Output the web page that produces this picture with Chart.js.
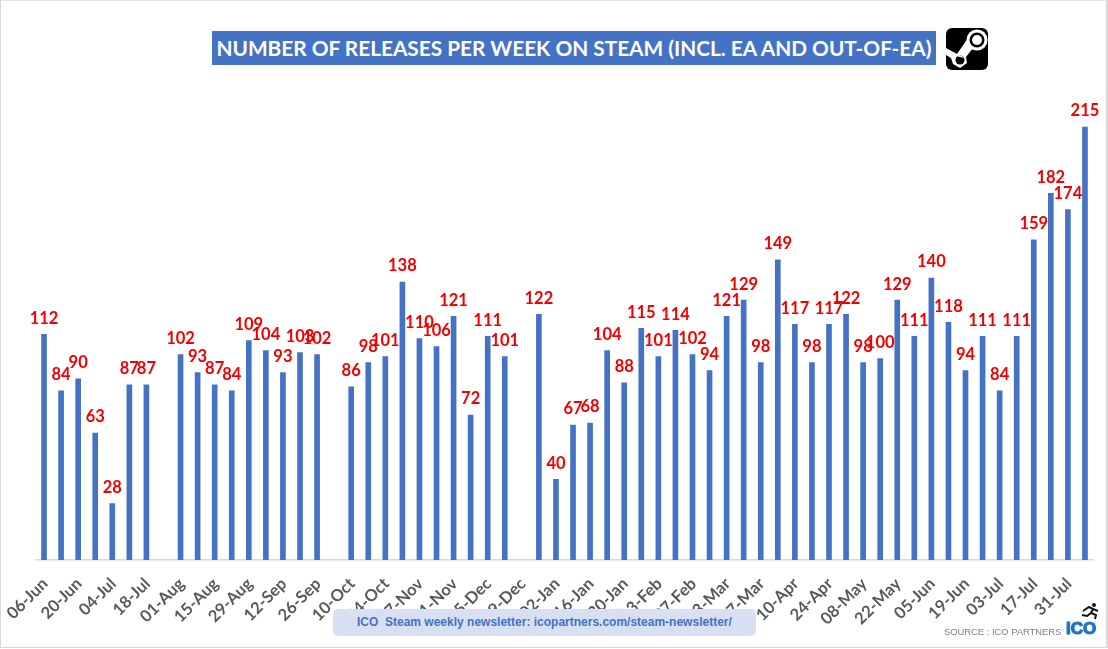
<!DOCTYPE html>
<html>
<head>
<meta charset="utf-8">
<script src="https://cdn.jsdelivr.net/npm/chart.js@4"></script>
<style>
  html, body { margin: 0; padding: 0; background: #fff; }
  #wrap { position: relative; width: 1108px; height: 649px; overflow: hidden; }
  #frame { position: absolute; left: 0; top: 0; width: 1105px; height: 646px; border: 1px solid #d9d9d9; border-top-color: #e6e6e6; border-right-width: 2px; }
  canvas { position: absolute; left: 0; top: 0; }
  #title { position: absolute; left: 212px; top: 31px; width: 724px; height: 34px; background: #4472c4; color: #fff;
           font: bold 20.8px/34px Lato, sans-serif; text-align: center; white-space: nowrap; }
  #steam { position: absolute; left: 946px; top: 28px; }
  #badge { position: absolute; left: 333px; top: 609px; width: 423px; height: 27px; border-radius: 5px; background: #d6e0f2; color: #4472c4;
           font: bold 12px/27px "Liberation Sans", sans-serif; padding-left: 24px; box-sizing: border-box; white-space: pre; }
  #source { position: absolute; left: 944px; top: 625px; color: #7f7f7f; font: 9.4px/13px "Liberation Sans", sans-serif; white-space: nowrap; }
  #ico { position: absolute; left: 1066px; top: 617px; color: #1f75c4; font: bold 17px/24px "Liberation Sans", sans-serif; -webkit-text-stroke: 1.2px #1f75c4; white-space: nowrap; }
  #runner { position: absolute; left: 1081px; top: 602px; }
</style>
</head>
<body>
<div id="wrap">
  <div id="frame"></div>
  <canvas id="releasesChart" width="1108" height="649"></canvas>
  <div id="title">NUMBER OF RELEASES PER WEEK ON STEAM (INCL. EA AND OUT-OF-EA)</div>
  <svg id="steam" width="43" height="43" viewBox="0 0 43 43">
    <rect width="42" height="42" rx="6" fill="#000"/>
    <path d="M0 20 L11 26 L22 10 L27 20 L20 29 L21 35 L14 40 L7 36 L5 30 L0 27 Z" fill="#fff"/>
    <circle cx="31" cy="12" r="10.5" fill="#fff"/>
    <circle cx="31" cy="12" r="7.5" fill="#000"/>
    <circle cx="31" cy="12" r="5" fill="#fff"/>
    <circle cx="14" cy="32" r="4.5" fill="#000"/>
    <path d="M10 28 A6 6 0 0 1 18 30 L14 29 Z" fill="#fff"/>
  </svg>
  <div id="badge">ICO  Steam weekly newsletter: icopartners.com/steam-newsletter/</div>
  <div id="source">SOURCE : ICO PARTNERS</div>
  <div id="ico">ICO</div>
  <svg id="runner" width="20" height="18" viewBox="0 0 20 18">
    <circle cx="13" cy="3" r="2" fill="#111"/>
    <path d="M2 9 L8 5 L12 7 L10 11 L15 13 L14 17 M10 11 L6 14 L1 13 M12 7 L17 9" fill="none" stroke="#111" stroke-width="2"/>
  </svg>
</div>
<script>
// weekly categories, every second one is shown on the axis
const weeks = [
  '06-Jun','13-Jun','20-Jun','27-Jun','04-Jul','11-Jul','18-Jul','25-Jul','01-Aug','08-Aug',
  '15-Aug','22-Aug','29-Aug','05-Sep','12-Sep','19-Sep','26-Sep','03-Oct','10-Oct','17-Oct',
  '24-Oct','31-Oct','07-Nov','14-Nov','21-Nov','28-Nov','05-Dec','12-Dec','19-Dec','26-Dec',
  '02-Jan','09-Jan','16-Jan','23-Jan','30-Jan','06-Feb','13-Feb','20-Feb','27-Feb','06-Mar',
  '13-Mar','20-Mar','27-Mar','03-Apr','10-Apr','17-Apr','24-Apr','01-May','08-May','15-May',
  '22-May','29-May','05-Jun','12-Jun','19-Jun','26-Jun','03-Jul','10-Jul','17-Jul','24-Jul',
  '31-Jul','07-Aug'
];
const releases = [
  112,84,90,63,28,87,87,null,102,93,
  87,84,109,104,93,103,102,null,86,98,
  101,138,110,106,121,72,111,101,null,122,
  40,67,68,104,88,115,101,114,102,94,
  121,129,98,149,117,98,117,122,98,100,
  129,111,140,118,94,111,84,111,159,182,
  174,215
];

// draws the red number above each bar
const barLabels = {
  id: 'barLabels',
  afterDatasetsDraw(chart) {
    const ctx = chart.ctx;
    const meta = chart.getDatasetMeta(0);
    ctx.save();
    ctx.fillStyle = '#f00000';
    ctx.font = 'bold 16.5px Lato, sans-serif';
    ctx.textAlign = 'center';
    ctx.textBaseline = 'middle';
    meta.data.forEach((bar, i) => {
      if (releases[i] === null) return;
      ctx.fillText(releases[i], bar.x, bar.y - 16);
    });
    ctx.restore();
  }
};

new Chart(document.getElementById('releasesChart').getContext('2d'), {
  type: 'bar',
  data: {
    labels: weeks,
    datasets: [{
      data: releases,
      backgroundColor: '#4472c4',
      barThickness: 5
    }]
  },
  options: {
    responsive: false,
    animation: false,
    devicePixelRatio: 1,
    layout: { padding: { left: 35.5, right: 14.5, top: 56.5, bottom: 0 } },
    plugins: { legend: { display: false }, title: { display: false }, tooltip: { enabled: false } },
    scales: {
      x: {
        // fixed axis band, and no extra side margin for the rotated labels
        afterFit(scale) {
          scale.height = 89;
          scale.paddingLeft = 0;
          scale.paddingRight = 0;
        },
        grid: { display: false, drawTicks: false },
        border: { color: '#d9d9d9', width: 1.5 },
        ticks: {
          autoSkip: false,
          minRotation: 45,
          maxRotation: 45,
          padding: 14,
          labelOffset: 1,
          color: '#595959',
          font: { family: 'Lato, sans-serif', size: 16.5, weight: 'bold' },
          callback(value, index) { return index % 2 ? '' : weeks[index]; }
        }
      },
      y: { display: false, min: 0, max: 250 }
    }
  },
  plugins: [barLabels]
});
</script>
</body>
</html>
